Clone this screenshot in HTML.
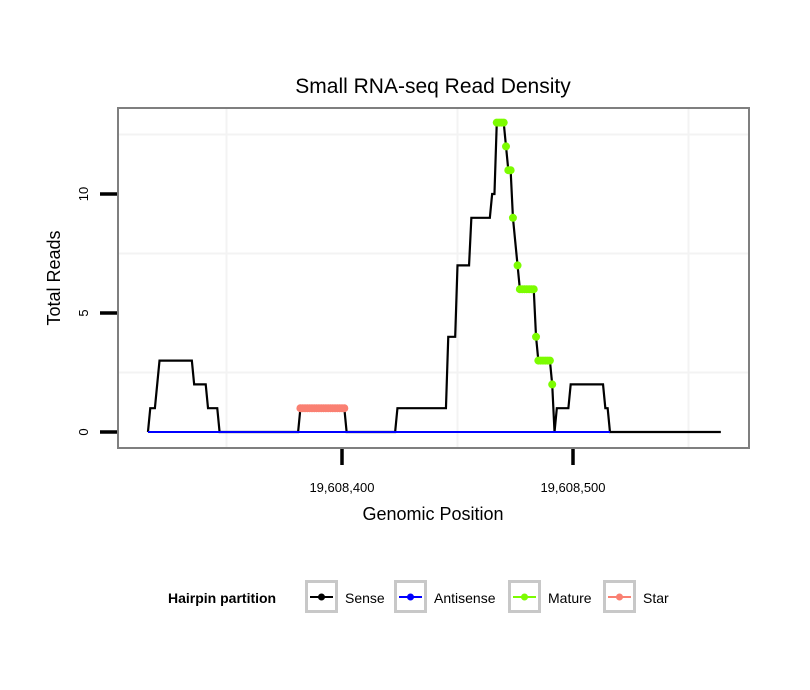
<!DOCTYPE html>
<html><head><meta charset="utf-8"><style>
body{margin:0;background:#fff;}
svg{display:block;font-family:"Liberation Sans",sans-serif;}
</style></head><body>
<svg id="chart" width="810" height="690" viewBox="0 0 810 690">
<rect width="810" height="690" fill="#fff"/>
<text x="433" y="93" font-size="21" text-anchor="middle">Small RNA-seq Read Density</text>
<g id="grid"></g>
<g id="series"></g>
<rect x="118" y="108" width="631" height="340" fill="none" stroke="#7f7f7f" stroke-width="2"/>
<g id="axes"></g>
<text x="433" y="520" font-size="18" text-anchor="middle">Genomic Position</text>
<text transform="translate(60,278) rotate(-90)" font-size="18" text-anchor="middle">Total Reads</text>
<g>
<text x="168" y="603" font-size="14" font-weight="bold">Hairpin partition</text>
<g><rect x="306.5" y="581.5" width="30" height="30" fill="#fff" stroke="#c8c8c8" stroke-width="3"/><line x1="310" y1="597" x2="333" y2="597" stroke="#000" stroke-width="2"/><circle cx="321.5" cy="597" r="3.5" fill="#000"/><text x="345" y="603" font-size="14">Sense</text></g>
<g><rect x="395.5" y="581.5" width="30" height="30" fill="#fff" stroke="#c8c8c8" stroke-width="3"/><line x1="399" y1="597" x2="422" y2="597" stroke="#0000ff" stroke-width="2"/><circle cx="410.5" cy="597" r="3.5" fill="#0000ff"/><text x="434" y="603" font-size="14">Antisense</text></g>
<g><rect x="509.5" y="581.5" width="30" height="30" fill="#fff" stroke="#c8c8c8" stroke-width="3"/><line x1="513" y1="597" x2="536" y2="597" stroke="#7cfc00" stroke-width="2"/><circle cx="524.5" cy="597" r="3.5" fill="#7cfc00"/><text x="548" y="603" font-size="14">Mature</text></g>
<g><rect x="604.5" y="581.5" width="30" height="30" fill="#fff" stroke="#c8c8c8" stroke-width="3"/><line x1="608" y1="597" x2="631" y2="597" stroke="#fa8072" stroke-width="2"/><circle cx="619.5" cy="597" r="3.5" fill="#fa8072"/><text x="643" y="603" font-size="14">Star</text></g>
</g>
</svg>
<script>
// Sense read density as runs starting at startPos
const startPos = 19608316;
const runValues  = [0,1,2,3,2,1,0,1,0,1,4,7,9,10,13,12,11,9,8,7,6,4,3,2,0,1,2,1,0];
const runLengths = [1,3,1,15,6,5,35,20,22,22,4,6,9,2,4,1,2,1,1,1,7,1,6,1,1,6,15,2,49];
const antisenseStart = 19608316, antisenseEnd = 19608516;
const matureStart = 19608467, matureEnd = 19608491;
const matureOmit = [19608475];
const starStart = 19608382, starEnd = 19608401;
const xTicks = [19608400, 19608500];
const xTickLabels = ["19,608,400", "19,608,500"];
const yTicks = [0, 5, 10];
const yTickLabels = ["0", "5", "10"];
const xGrid = [19608350, 19608450, 19608550];
const yGrid = [2.5, 7.5, 12.5];

const NS = "http://www.w3.org/2000/svg";
const xS = p => 342 + (p - 19608400) * 2.31;
const yS = v => 432 - v * 23.8;
function mk(tag, attrs, parent){const e=document.createElementNS(NS,tag);for(const k in attrs)e.setAttribute(k,attrs[k]);parent.appendChild(e);return e;}

const pos=[], val=[];
let p=startPos;
runValues.forEach((v,i)=>{for(let k=0;k<runLengths[i];k++){pos.push(p);val.push(v);p++;}});
const valAt = q => { const i=q-startPos; return (i>=0&&i<val.length)?val[i]:0; };

const grid=document.getElementById('grid');
xGrid.forEach(g=>{const l=mk('line',{x1:xS(g),x2:xS(g),y1:109,y2:447,stroke:'#f3f3f3','stroke-width':2},grid);

});
yGrid.forEach(g=>{const l=mk('line',{x1:119,x2:748,y1:yS(g),y2:yS(g),stroke:'#f3f3f3','stroke-width':2},grid);

});

const series=document.getElementById('series');
const sense=mk('polyline',{points:pos.map((q,i)=>xS(q)+','+yS(val[i])).join(' '),fill:'none',stroke:'#000','stroke-width':2.2,'stroke-linejoin':'miter'},series);


const anti=mk('line',{x1:xS(antisenseStart),x2:xS(antisenseEnd),y1:yS(0),y2:yS(0),stroke:'#0000ff','stroke-width':2},series);


function dots(a,b,color,name,omit,withLine){
  if(withLine){
    const pts=[];for(let q=a;q<=b;q++)pts.push(xS(q)+','+yS(valAt(q)));
    const pl=mk('polyline',{points:pts.join(' '),fill:'none',stroke:color,'stroke-width':2},series);
    
    
  }
  for(let q=a;q<=b;q++){ if(omit.indexOf(q)>=0) continue;
    const c=mk('circle',{cx:xS(q),cy:yS(valAt(q)),r:4,fill:color},series);
    
    }
}
dots(matureStart,matureEnd,'#7cfc00','mature',matureOmit,false);
dots(starStart,starEnd,'#fa8072','star',[],true);

const axes=document.getElementById('axes');
xTicks.forEach((t,i)=>{const l=mk('line',{x1:xS(t),x2:xS(t),y1:449,y2:465,stroke:'#000','stroke-width':3.5},axes);


const tx=mk('text',{x:xS(t),y:492,'font-size':13,'text-anchor':'middle'},axes);tx.textContent=xTickLabels[i];

});
yTicks.forEach((t,i)=>{const l=mk('line',{x1:100,x2:117,y1:yS(t),y2:yS(t),stroke:'#000','stroke-width':3.5},axes);


const tx=mk('text',{transform:`translate(88,${yS(t)}) rotate(-90)`,'font-size':13,'text-anchor':'middle'},axes);tx.textContent=yTickLabels[i];

});
</script>
</body></html>
